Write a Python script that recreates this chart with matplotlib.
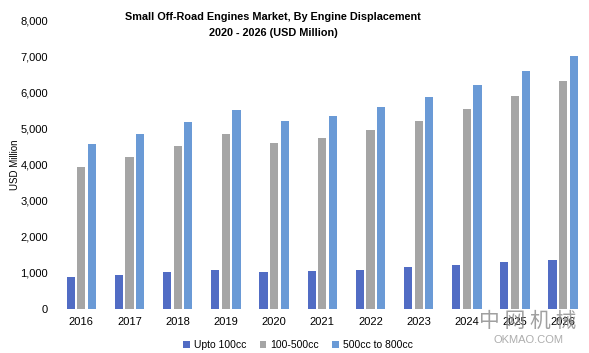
import matplotlib
matplotlib.use("Agg")
import matplotlib.pyplot as plt
import numpy as np

years = ["2016", "2017", "2018", "2019", "2020", "2021", "2022", "2023", "2024", "2025", "2026"]
upto_100 = [885, 940, 1020, 1075, 1025, 1050, 1080, 1160, 1215, 1300, 1355]
cc_100_500 = [3950, 4225, 4530, 4860, 4600, 4740, 4960, 5220, 5550, 5910, 6330]
cc_500_800 = [4585, 4860, 5200, 5525, 5210, 5345, 5595, 5880, 6215, 6600, 7020]

series = [("Upto 100cc", upto_100, "#516CC4"),
          ("100-500cc", cc_100_500, "#A5A5A5"),
          ("500cc to 800cc", cc_500_800, "#6A9AD6")]

plt.rcParams['font.family'] = ['Liberation Sans', 'DejaVu Sans']

fig = plt.figure(figsize=(5.89, 3.53), dpi=100)
ax = fig.add_axes([0.093, 0.1246, 0.9, 0.8164])

x = np.arange(len(years))
w = 0.17
offs = [-0.22, 0, 0.22]
for (name, vals, col), o in zip(series, offs):
    ax.bar(x + o, vals, width=w, color=col, label=name)

ax.set_xlim(-0.55, 10.45)
ax.set_ylim(0, 8000)
ax.set_yticks(range(0, 8001, 1000))
ax.set_yticklabels([f"{v:,}" for v in range(0, 8001, 1000)])
ax.set_xticks(x)
ax.set_xticklabels(years)
ax.tick_params(length=0, labelsize=8, pad=6)
ax.tick_params(axis="y", pad=5)
for s in ax.spines.values():
    s.set_visible(False)
ax.set_ylabel("USD Million", fontsize=7, labelpad=0)
ax.yaxis.set_label_coords(-0.066, 0.5)

fig.text(273 / 589, 1 - 25 / 353, "Small Off-Road Engines Market, By Engine Displacement\n2020 - 2026 (USD Million)",
         ha="center", va="center", fontsize=7.8, fontweight="bold", linespacing=1.65)

fig.legend(loc="center", bbox_to_anchor=(298 / 589, 1 - 345 / 353), ncol=3, frameon=False,
           fontsize=7.5, handlelength=0.6, handleheight=0.6, handletextpad=0.4, columnspacing=1.3)

# watermark
fig.text(528 / 589, 1 - 321 / 353, "中 网 机 械", family=['Noto Sans CJK SC', 'DejaVu Sans'],
         fontsize=15, color="#888888", alpha=0.8, ha="center", va="center")
fig.text(528 / 589, 1 - 340 / 353, "OKMAO.COM", fontsize=8, color="#999999", alpha=0.8,
         ha="center", va="center")

fig.savefig("out.png", dpi=100)
